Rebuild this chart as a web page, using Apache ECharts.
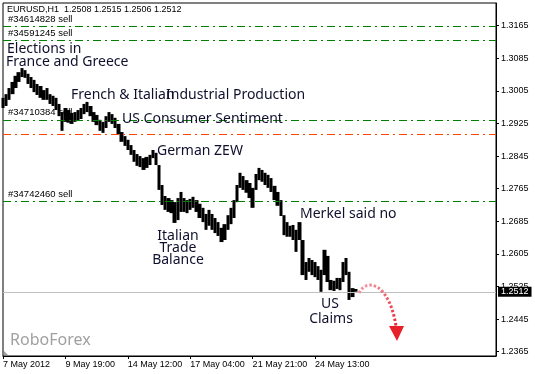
<!DOCTYPE html>
<html><head><meta charset="utf-8">
<script src="https://cdn.jsdelivr.net/npm/echarts@6/dist/echarts.min.js"></script>
<style>html,body{margin:0;padding:0;background:#fff}#c{width:535px;height:374px}</style>
</head><body><div id="c"></div>
<script>
const opens = [1.2963,1.2968,1.2983,1.2997,1.3012,1.3027,1.3039,1.3056,1.3047,1.3039,
1.3032,1.3022,1.3017,1.3007,1.2983,1.2997,1.2993,1.2988,1.2973,1.2953,
1.2929,1.2958,1.2951,1.2929,1.2931,1.2936,1.2948,1.2953,1.2968,1.2953,
1.2946,1.2934,1.2929,1.2914,1.2929,1.2948,1.2939,1.2924,1.2904,1.2894,
1.2885,1.2872,1.2860,1.2850,1.2845,1.2840,1.2816,1.2823,1.2840,1.2853,
1.2823,1.2774,1.2747,1.2742,1.2737,1.2732,1.2688,1.2708,1.2742,1.2737,
1.2713,1.2718,1.2737,1.2728,1.2718,1.2703,1.2674,1.2703,1.2693,1.2683,
1.2669,1.2639,1.2664,1.2678,1.2693,1.2732,1.2767,1.2796,1.2786,1.2779,
1.2767,1.2762,1.2786,1.2811,1.2804,1.2799,1.2791,1.2772,1.2757,1.2737,
1.2700,1.2683,1.2647,1.2676,1.2664,1.2639,1.2639,1.2585,1.2561,1.2590,
1.2585,1.2575,1.2566,1.2553,1.2600,1.2541,1.2514,1.2519,1.2516,1.2536,
1.2595,1.2561,1.2521,1.2519];
const closes = [1.2988,1.2997,1.3012,1.3027,1.3042,1.3051,1.3061,1.3037,1.3022,1.3012,
1.3002,1.2995,1.2988,1.2983,1.3012,1.2973,1.2968,1.2958,1.2943,1.2907,
1.2963,1.2927,1.2924,1.2953,1.2958,1.2963,1.2973,1.2978,1.2943,1.2929,
1.2921,1.2907,1.2902,1.2943,1.2953,1.2924,1.2914,1.2899,1.2880,1.2870,
1.2860,1.2848,1.2831,1.2821,1.2818,1.2811,1.2843,1.2848,1.2860,1.2823,
1.2762,1.2725,1.2713,1.2708,1.2705,1.2681,1.2742,1.2757,1.2708,1.2705,
1.2740,1.2745,1.2708,1.2693,1.2683,1.2664,1.2713,1.2664,1.2656,1.2649,
1.2634,1.2678,1.2700,1.2718,1.2737,1.2774,1.2804,1.2762,1.2755,1.2742,
1.2718,1.2801,1.2816,1.2782,1.2774,1.2767,1.2757,1.2737,1.2723,1.2698,
1.2651,1.2647,1.2674,1.2639,1.2610,1.2683,1.2553,1.2541,1.2595,1.2553,
1.2548,1.2541,1.2512,1.2615,1.2536,1.2516,1.2539,1.2546,1.2546,1.2585,
1.2553,1.2492,1.2499,1.2512];
const lows = [1.2963,1.2968,1.2983,1.2997,1.3012,1.3027,1.3039,1.3037,1.3022,1.3012,
1.3002,1.2995,1.2988,1.2983,1.2983,1.2973,1.2968,1.2958,1.2943,1.2907,
1.2929,1.2927,1.2924,1.2929,1.2931,1.2936,1.2948,1.2953,1.2943,1.2929,
1.2921,1.2907,1.2902,1.2914,1.2929,1.2924,1.2914,1.2899,1.2880,1.2870,
1.2860,1.2848,1.2831,1.2821,1.2818,1.2811,1.2816,1.2823,1.2840,1.2823,
1.2762,1.2725,1.2713,1.2708,1.2705,1.2681,1.2688,1.2708,1.2708,1.2705,
1.2713,1.2718,1.2708,1.2693,1.2683,1.2664,1.2674,1.2664,1.2656,1.2649,
1.2634,1.2639,1.2664,1.2678,1.2693,1.2732,1.2767,1.2762,1.2755,1.2742,
1.2718,1.2762,1.2786,1.2782,1.2774,1.2767,1.2757,1.2737,1.2723,1.2698,
1.2651,1.2647,1.2647,1.2639,1.2610,1.2639,1.2553,1.2541,1.2561,1.2553,
1.2548,1.2541,1.2512,1.2553,1.2536,1.2516,1.2514,1.2519,1.2516,1.2536,
1.2553,1.2492,1.2499,1.2502];
const highs = [1.2988,1.2997,1.3012,1.3027,1.3042,1.3051,1.3061,1.3056,1.3047,1.3039,
1.3032,1.3022,1.3017,1.3007,1.3012,1.2997,1.2993,1.2988,1.2973,1.2953,
1.2963,1.2958,1.2951,1.2953,1.2958,1.2963,1.2973,1.2978,1.2968,1.2953,
1.2946,1.2934,1.2929,1.2943,1.2953,1.2948,1.2939,1.2924,1.2904,1.2894,
1.2885,1.2872,1.2860,1.2850,1.2845,1.2840,1.2843,1.2848,1.2860,1.2853,
1.2823,1.2774,1.2747,1.2742,1.2737,1.2732,1.2742,1.2757,1.2742,1.2737,
1.2740,1.2745,1.2737,1.2728,1.2718,1.2703,1.2713,1.2703,1.2693,1.2683,
1.2669,1.2678,1.2700,1.2718,1.2737,1.2774,1.2804,1.2796,1.2786,1.2779,
1.2767,1.2801,1.2816,1.2811,1.2804,1.2799,1.2791,1.2772,1.2757,1.2737,
1.2700,1.2683,1.2674,1.2676,1.2664,1.2683,1.2639,1.2585,1.2595,1.2590,
1.2585,1.2575,1.2566,1.2615,1.2600,1.2541,1.2539,1.2546,1.2546,1.2585,
1.2595,1.2561,1.2521,1.2519];

const xTickLabels = ['7 May 2012','9 May 19:00','14 May 12:00','17 May 04:00','21 May 21:00','24 May 13:00'];
const barsPerLabel = 20;
const totalSlots = 159;

const yTicks = [1.2365,1.2445,1.2525,1.2605,1.2685,1.2765,1.2845,1.2925,1.3005,1.3085,1.3165];
const yMin = 1.23544, yMax = 1.32207;

const orderLevels = [1.3163, 1.3130, 1.2934, 1.2735];
const orderIds = ['#34614828 sell','#34591245 sell','#34710384 sell','#34742460 sell'];
const stopLevel = 1.2899;
const lastPrice = 1.2512;
const headerText = 'EURUSD,H1  1.2508 1.2515 1.2506 1.2512';

const categories = [];
for (let i = 0; i < totalSlots; i++) {
  const k = i / barsPerLabel;
  categories.push(i % barsPerLabel === 0 && k < xTickLabels.length ? xTickLabels[k] : '');
}
const candles = opens.map((o, i) => [o, closes[i], lows[i], highs[i]]);

const ink = '#10102e';
const annFont = '14px "Noto Sans"';
function t(text, x, y, align) {
  return {type:'text', x:x, y:y, z:100, silent:true,
    style:{text:text, fill:ink, font:annFont, align:align||'left', verticalAlign:'middle'}};
}

const markData = orderLevels.map((v, i) => ({
  yAxis: v,
  lineStyle: {color:'#008000', type:[8,4,2,4], width:1, opacity:1},
  label: {show:true, position:'insideStartTop', formatter: () => orderIds[i],
    color:'#000', fontSize:9.5, fontFamily:'Liberation Sans', distance:[5,2]}
}));
markData.push({yAxis: stopLevel, lineStyle:{color:'#ff4500', type:[8,4,2,4], width:1, opacity:1}, label:{show:false}});
markData.push({yAxis: lastPrice, lineStyle:{color:'#c0c0c0', type:'solid', width:1, opacity:1},
  label:{show:true, position:'end', formatter: () => lastPrice.toFixed(4), backgroundColor:'#000',
    color:'#fff', padding:[1,3,0,3], distance:2, fontSize:9, fontFamily:'Liberation Sans'}});

const chart = echarts.init(document.getElementById('c'), null, {renderer:'canvas'});
chart.setOption({
  animation:false,
  backgroundColor:'#fff',
  grid:{left:3, top:3, right:39, bottom:18, show:true, borderColor:'#000', borderWidth:1, backgroundColor:'#fff'},
  xAxis:{type:'category', data:categories, boundaryGap:false,
    axisLine:{show:true, lineStyle:{color:'#000'}},
    axisTick:{show:true, interval:(i, v) => v !== '', length:3, lineStyle:{color:'#000'}},
    axisLabel:{interval:(i, v) => v !== '', align:'left', color:'#000', fontSize:9, fontFamily:'Liberation Sans', margin:4},
    splitLine:{show:false}},
  yAxis:{type:'value', position:'right', min:yMin, max:yMax, scale:true,
    splitLine:{show:false},
    axisLine:{show:true, lineStyle:{color:'#000'}},
    axisTick:{show:true, customValues:yTicks, length:3, lineStyle:{color:'#000'}},
    axisLabel:{customValues:yTicks, formatter:v => v.toFixed(4), color:'#000', fontSize:9, fontFamily:'Liberation Sans', margin:5}},
  series:[{
    type:'candlestick', data:candles, barWidth:3.8,
    itemStyle:{color:'#000', color0:'#000', borderColor:'#000', borderColor0:'#000', borderWidth:0},
    markLine:{silent:true, precision:4, symbol:['none','none'], animation:false, data:markData}
  }],
  graphic:[
    {type:'text', x:7, y:10, z:100, style:{text:headerText, fill:'#000', font:'9px "Liberation Sans"', verticalAlign:'middle'}},
    t('Elections in', 7, 49),
    t('France and Greece', 6, 62),
    t('French & Italian', 71, 95),
    t('Industrial Production', 166, 95),
    t('US Consumer Sentiment', 122, 119),
    t('German ZEW', 157, 151),
    t('Italian', 178, 236, 'center'),
    t('Trade', 178, 248, 'center'),
    t('Balance', 178, 260, 'center'),
    t('Merkel said no', 300, 214),
    t('US', 330, 304, 'center'),
    t('Claims', 331, 319, 'center'),
    {type:'text', x:10, y:340, z:100, style:{text:'RoboForex', fill:'#a0a0a0', font:'16px "Noto Sans"', verticalAlign:'middle'}},
    {type:'bezierCurve', z:100, silent:true,
      shape:{x1:359, y1:293, cpx1:366, cpy1:278, cpx2:389, cpy2:282, x2:396, y2:326},
      style:{stroke:new echarts.graphic.LinearGradient(0,0,1,1,[{offset:0,color:'#f3a3ab'},{offset:1,color:'#e8202a'}]),
        lineWidth:3, lineDash:[2.5,2], fill:null}},
    {type:'polygon', z:100, silent:true, shape:{points:[[389,326],[404,326],[397,341]]}, style:{fill:'#e8202a'}},
    {type:'polygon', z:100, silent:true, shape:{points:[[4,351],[4,355],[8,355]]}, style:{fill:'#a0a0a0'}}
  ]
});
</script></body></html>
